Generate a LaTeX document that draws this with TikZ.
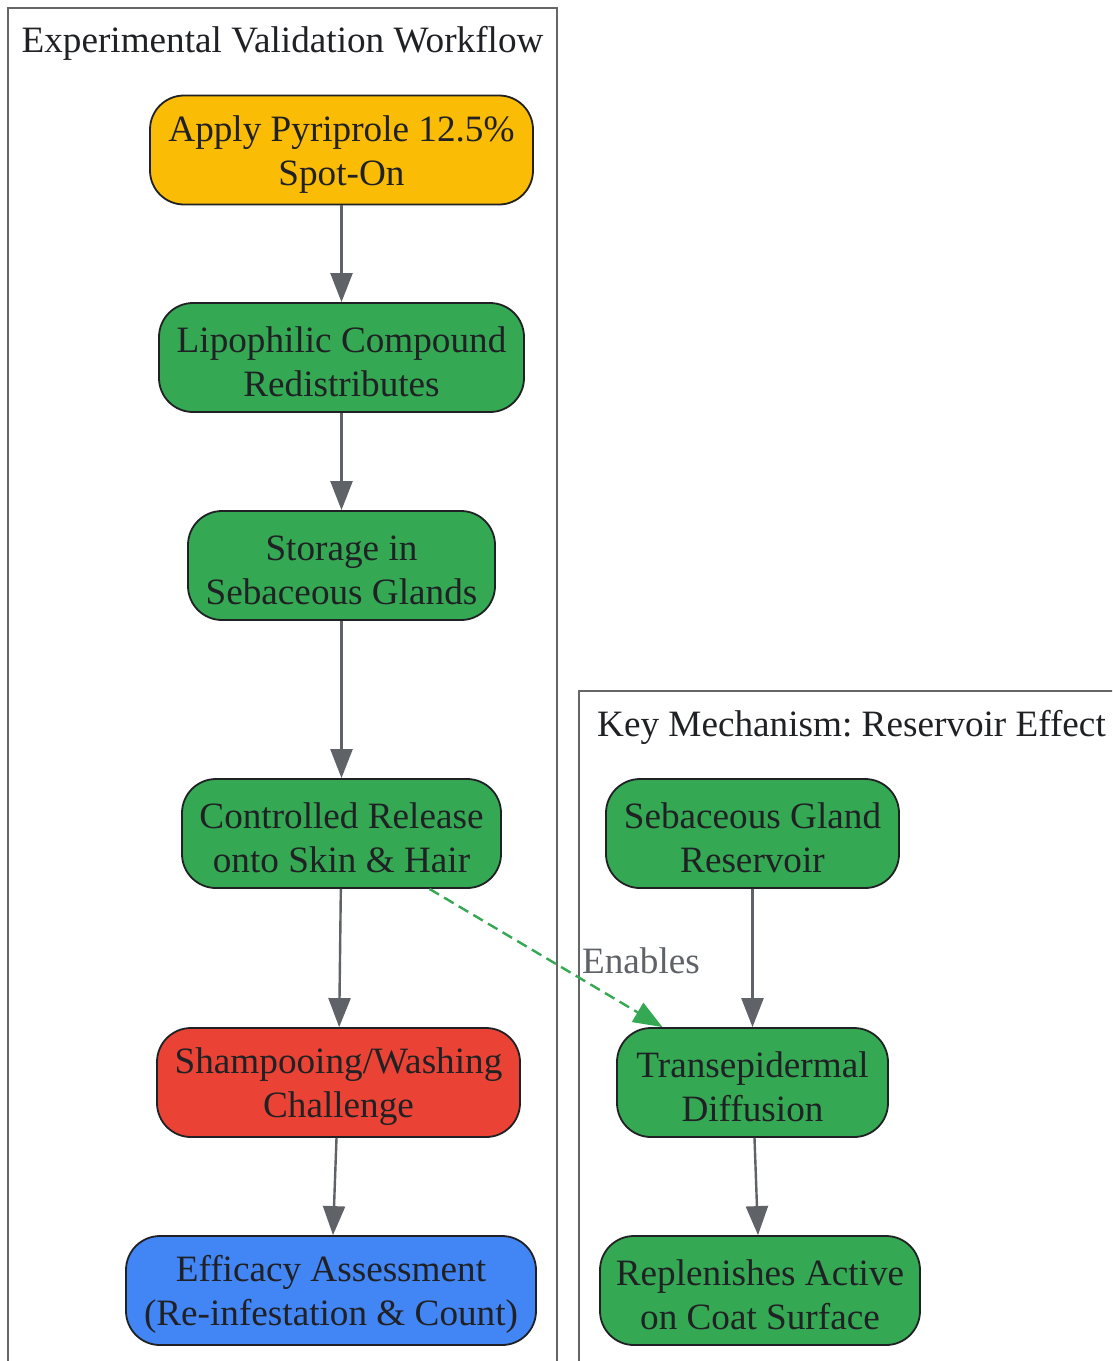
\documentclass[tikz,border=0pt]{standalone}
\usepackage{fontspec}
\setmainfont{Liberation Serif}
\usetikzlibrary{arrows.meta}
\frenchspacing
\definecolor{cyellow}{HTML}{FBBC05}
\definecolor{cgreen}{HTML}{34A853}
\definecolor{cred}{HTML}{EA4335}
\definecolor{cblue}{HTML}{4285F4}
\definecolor{cgray}{HTML}{5F6368}
\definecolor{ctext}{HTML}{202124}
\definecolor{cframe}{HTML}{666666}
\newcommand\tstrut{\rule{0pt}{34pt}}
\tikzset{
  box/.style={draw=ctext, line width=1.8pt, rounded corners=34pt, align=center,
    text=ctext, minimum height=109pt, inner sep=0pt,
    font=\fontsize{37.2}{44}\selectfont},
  flow/.style={draw=cgray, line width=2.4pt, -{Triangle[length=29pt,width=22pt]}},
  cluster/.style={draw=cframe, line width=2pt},
  ctitle/.style={text=ctext, font=\fontsize{37.2}{44}\selectfont, inner sep=0pt}
}
\begin{document}
\begin{tikzpicture}[x=1pt,y=-1pt]
\clip (0,0) rectangle (1112,1361);
\fill[white] (0,0) rectangle (1112,1361);
% clusters
\draw[cluster] (8,8) rectangle (557,1400);
\draw[cluster] (579,691) rectangle (1150,1400);
\node[ctitle] (t1) at (282.5,43) {Experimental Validation Workflow};
\node[ctitle] (t2) at (851.5,727) {Key Mechanism: Reservoir Effect};
% left nodes
\node[box, fill=cyellow, minimum width=383pt] (n1) at (341.5,150) {\tstrut Apply Pyriprole 12.5\%\\Spot-On};
\node[box, fill=cgreen, minimum width=365pt] (n2) at (341.5,357.5) {\tstrut Lipophilic Compound\\Redistributes};
\node[box, fill=cgreen, minimum width=307pt] (n3) at (341.5,565.5) {\tstrut Storage in\\Sebaceous Glands};
\node[box, fill=cgreen, minimum width=319pt] (n4) at (341.5,833.5) {\tstrut Controlled Release\\onto Skin \& Hair};
\node[box, fill=cred, minimum width=363pt] (n5) at (338.5,1082.5) {\tstrut Shampooing/Washing\\Challenge};
\node[box, fill=cblue, minimum width=410pt] (n6) at (331,1290.5) {\tstrut Efficacy Assessment\\(Re-infestation \& Count)};
% right nodes
\node[box, fill=cgreen, minimum width=293pt] (n7) at (752.5,833.5) {\tstrut Sebaceous Gland\\Reservoir};
\node[box, fill=cgreen, minimum width=271pt] (n8) at (752.5,1082.5) {\tstrut Transepidermal\\Diffusion};
\node[box, fill=cgreen, minimum width=320pt] (n9) at (760,1290.5) {\tstrut Replenishes Active\\on Coat Surface};
% edges
\draw[flow] (n1) -- (n2);
\draw[flow] (n2) -- (n3);
\draw[flow] (n3) -- (n4);
\draw[flow] (n4) -- (n5);
\draw[flow] (n5) -- (n6);
\draw[flow] (n7) -- (n8);
\draw[flow] (n8) -- (n9);
\draw[draw=cgreen, line width=2.4pt, dash pattern=on 11pt off 6pt, -{Triangle[length=29pt,width=22pt]}]
  ([xshift=88pt]n4.south) -- ([xshift=-90pt]n8.north);
\node[text=cgray, font=\fontsize{37.2}{44}\selectfont, inner sep=0pt] (lbl) at (641,961) {Enables};
\end{tikzpicture}
\end{document}
